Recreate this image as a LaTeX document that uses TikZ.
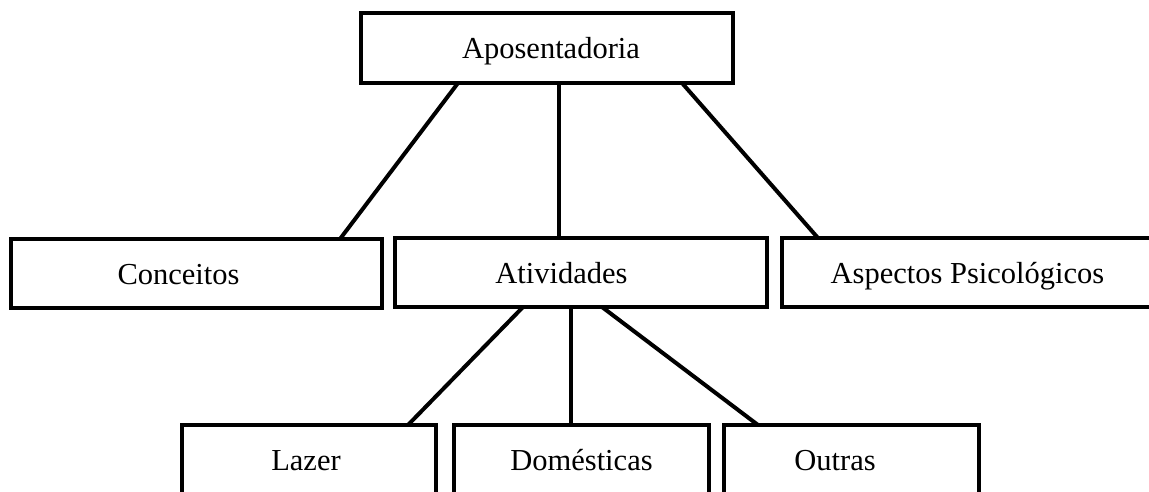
\documentclass[tikz,border=0pt]{standalone}
\usepackage{fontspec}
\setmainfont{Liberation Serif}
\newcommand\shtext[2]{\hbox to 0pt{\hss\kern#1\kern#1\relax#2\hss}}
\begin{document}
\begin{tikzpicture}[x=1pt,y=-1pt,
  boxnode/.style={draw=black, line width=4.2pt, rectangle, outer sep=0pt, inner sep=0pt,
    font=\fontsize{30.5}{36}\selectfont, text height=21pt, text depth=0pt},
  wide/.style={boxnode, minimum width=372pt, minimum height=69pt},
  narrow/.style={boxnode, minimum width=255pt, minimum height=69pt},
  link/.style={draw=black, line width=4pt}]
\useasboundingbox (0,0) rectangle (1149,491);
\clip (0,0) rectangle (1149,491);
\fill[white] (0,0) rectangle (1149,491);

\node[wide, minimum height=70pt] (top) at (547,48) {\shtext{4pt}{Aposentadoria}};
\node[wide, minimum width=371pt] (conc) at (196.5,273.5) {\shtext{-18pt}{Conceitos}};
\node[wide] (ativ) at (581,272.5) {\shtext{-19.5pt}{Atividades}};
\node[wide, minimum width=373pt] (asp) at (968.5,272.5) {\shtext{-1pt}{Aspectos Psicológicos}};
\node[narrow, minimum width=254pt] (laz) at (309,459.5) {\shtext{-3pt}{Lazer}};
\node[narrow] (dom) at (581.5,459.5) {\shtext{0pt}{Domésticas}};
\node[narrow] (out) at (851.5,459.5) {\shtext{-16.5pt}{Outras}};

\draw[link] ([xshift=97pt]top.south west) -- ([xshift=329pt]conc.north west);
\draw[link] ([xshift=198pt]top.south west) -- ([xshift=164pt]ativ.north west);
\draw[link] ([xshift=321pt]top.south west) -- ([xshift=36pt]asp.north west);
\draw[link] ([xshift=128pt]ativ.south west) -- ([xshift=226pt]laz.north west);
\draw[link] ([xshift=176pt]ativ.south west) -- ([xshift=117pt]dom.north west);
\draw[link] ([xshift=207pt]ativ.south west) -- ([xshift=34pt]out.north west);
\end{tikzpicture}
\end{document}
